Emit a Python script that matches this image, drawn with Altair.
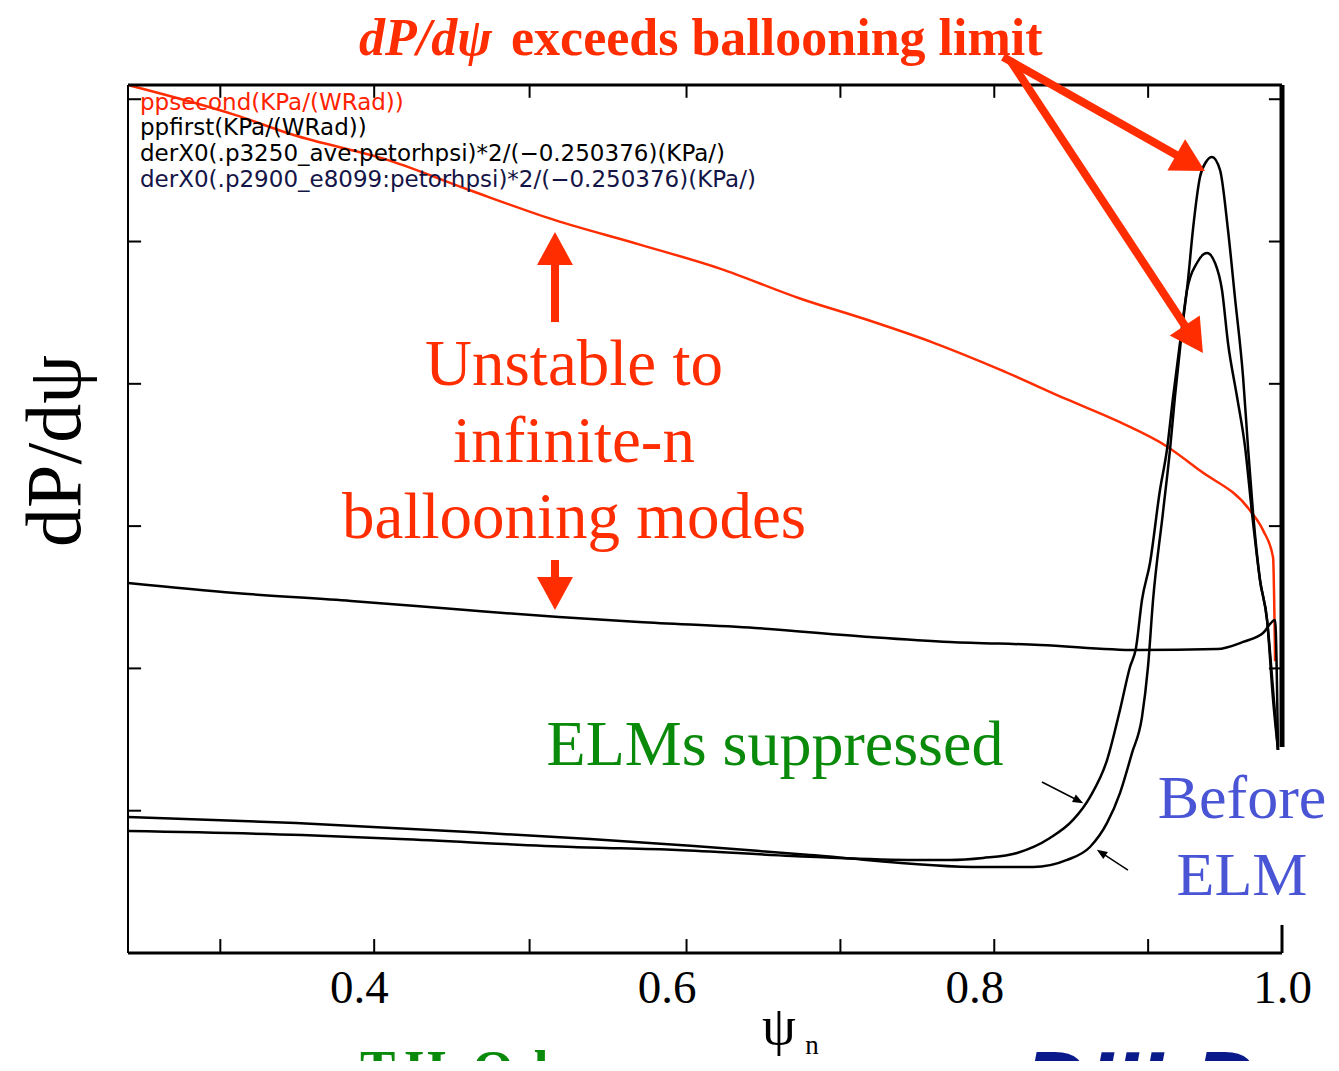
import altair as alt
import pandas as pd

# ---------------- data ----------------
# x: normalised flux psi_n, y: dP/dpsi (arbitrary units, unlabeled axis)
ppsecond_x = [0.2500, 0.3195, 0.3572, 0.4196, 0.4723, 0.5275, 0.5821, 0.6347, 0.6867, 0.7303,
              0.7732, 0.8167, 0.8603, 0.8947, 0.9252, 0.9467, 0.9792, 0.9877, 0.9942, 0.9955]
ppsecond_y = [6.10, 5.89, 5.75, 5.57, 5.36, 5.15, 4.98, 4.81, 4.60, 4.45,
              4.29, 4.10, 3.89, 3.73, 3.56, 3.39, 3.11, 2.97, 2.78, 2.05]

ppfirst_x = [0.2500, 0.3195, 0.3949, 0.4697, 0.5301, 0.5821, 0.6575, 0.7322, 0.7842, 0.8427,
             0.9058, 0.9578, 0.9747, 0.9877, 0.9955, 0.9974]
ppfirst_y = [2.600, 2.530, 2.474, 2.410, 2.361, 2.326, 2.284, 2.221, 2.186, 2.165,
             2.129, 2.136, 2.186, 2.249, 2.340, 1.427]

# ELMs suppressed (lower peak)
p3250_x = [0.2500, 0.3631, 0.4268, 0.5392, 0.6068, 0.6815, 0.7569, 0.7842, 0.8057, 0.8278,
           0.8492, 0.8642, 0.8752, 0.8863, 0.8947, 0.9012, 0.9051, 0.9090, 0.9142, 0.9207,
           0.9252, 0.9292, 0.9337, 0.9383, 0.9447, 0.9513, 0.9565, 0.9610, 0.9649, 0.9708,
           0.9760, 0.9805, 0.9857, 0.9903, 0.9942, 0.9974]
p3250_y = [0.857, 0.829, 0.801, 0.745, 0.724, 0.682, 0.654, 0.654, 0.668, 0.703,
           0.808, 0.935, 1.096, 1.356, 1.708, 2.010, 2.143, 2.481, 2.741, 3.254,
           3.535, 3.907, 4.287, 4.659, 4.849, 4.919, 4.849, 4.659, 4.287, 3.907,
           3.556, 3.092, 2.621, 2.340, 1.848, 1.427]

# Before ELM (taller peak)
p2900_x = [0.2500, 0.3592, 0.4716, 0.5503, 0.6179, 0.6932, 0.8057, 0.8382, 0.8603, 0.8752,
           0.8863, 0.8947, 0.9025, 0.9090, 0.9129, 0.9162, 0.9226, 0.9272, 0.9304, 0.9350,
           0.9389, 0.9421, 0.9467, 0.9506, 0.9545, 0.9597, 0.9649, 0.9694, 0.9747, 0.9779,
           0.9812, 0.9857, 0.9903, 0.9942, 0.9974]
p2900_y = [0.956, 0.914, 0.850, 0.801, 0.752, 0.689, 0.604, 0.604, 0.654, 0.745,
           0.914, 1.124, 1.405, 1.658, 2.010, 2.481, 3.092, 3.535, 3.907, 4.378,
           4.729, 5.081, 5.453, 5.559, 5.594, 5.503, 5.081, 4.610, 4.048, 3.556,
           3.092, 2.621, 2.340, 1.778, 1.427]

series_names = ["ppsecond", "ppfirst", "p3250_ave", "p2900_e8099"]
series_colors = ["#ff2d00", "#000000", "#000000", "#000000"]

x_label_values = [0.4, 0.6, 0.8, 1.0]
x_minor_ticks = [0.310, 0.410, 0.511, 0.613, 0.713, 0.813, 0.913]
y_left_ticks = [1, 2, 3, 4, 5, 6]
y_right_ticks = [2, 3, 4, 5, 6]

legend_lines = ["ppsecond(KPa/(WRad))",
                "ppfirst(KPa/(WRad))",
                "derX0(.p3250_ave:petorhpsi)*2/(\u22120.250376)(KPa/)",
                "derX0(.p2900_e8099:petorhpsi)*2/(\u22120.250376)(KPa/)"]
legend_colors = ["#ff2200", "#000000", "#000000", "#141446"]
legend_y = [5.924, 5.748, 5.565, 5.383]

X_DOMAIN = [0.25, 1.0]
Y_DOMAIN = [0.0, 6.1]
RED = "#ff2d00"

xscale = alt.Scale(domain=X_DOMAIN, nice=False, zero=False)
yscale = alt.Scale(domain=Y_DOMAIN, nice=False, zero=False)
xaxis = alt.Axis(values=x_label_values, format=".1f", title=None, domain=False, ticks=False,
                 grid=False, labelFont="Liberation Serif", labelFontSize=47, labelColor="black",
                 labelPadding=12, labelFlush=False)


def X(f):
    return alt.X(f, type="quantitative", scale=xscale, axis=xaxis)


def Y(f):
    return alt.Y(f, type="quantitative", scale=yscale, axis=None)


# ---------------- curves ----------------
rows = []
for name, xs, ys in [("ppsecond", ppsecond_x, ppsecond_y), ("ppfirst", ppfirst_x, ppfirst_y),
                     ("p3250_ave", p3250_x, p3250_y), ("p2900_e8099", p2900_x, p2900_y)]:
    for i, (a, b) in enumerate(zip(xs, ys)):
        rows.append({"series": name, "x": a, "y": b, "i": i})
curves_df = pd.DataFrame(rows)

curves = alt.Chart(curves_df).mark_line(strokeWidth=2.5, interpolate="monotone").encode(
    X("x"), Y("y"),
    color=alt.Color("series:N", scale=alt.Scale(domain=series_names, range=series_colors), legend=None),
    order="i:Q",
)

# ---------------- frame and inward ticks ----------------
frame_df = pd.DataFrame([
    {"x": 0.25, "y": 0.0, "x2": 0.25, "y2": 6.1, "w": 2},
    {"x": 0.25, "y": 6.1, "x2": 1.0, "y2": 6.1, "w": 3},
    {"x": 0.25, "y": 0.0, "x2": 1.0, "y2": 0.0, "w": 3},
    {"x": 1.0, "y": 1.448, "x2": 1.0, "y2": 6.1, "w": 5},
    {"x": 1.0, "y": 0.0, "x2": 1.0, "y2": 0.197, "w": 3},
])
tick_rows = []
for v in x_minor_ticks:
    tick_rows.append({"x": v, "y": 0.0, "x2": v, "y2": 0.098})
    tick_rows.append({"x": v, "y": 6.1, "x2": v, "y2": 6.01})
for v in y_left_ticks:
    tick_rows.append({"x": 0.25, "y": v, "x2": 0.2585, "y2": v})
for v in y_right_ticks:
    tick_rows.append({"x": 1.0, "y": v, "x2": 0.9915, "y2": v})
frame_df = pd.concat([frame_df, pd.DataFrame(tick_rows).assign(w=2)], ignore_index=True)

frame = alt.Chart(frame_df).mark_rule(color="black").encode(
    X("x"), Y("y"), x2="x2:Q", y2="y2:Q", size=alt.Size("w:Q", scale=None, legend=None)
)

# ---------------- in-plot legend text ----------------
leg_df = pd.DataFrame({"x": [0.2578] * 4, "y": legend_y, "t": legend_lines, "c": legend_colors})
legend_text = alt.Chart(leg_df).mark_text(align="left", baseline="alphabetic", font="DejaVu Sans",
                                          fontSize=23).encode(
    X("x"), Y("y"), text="t:N", color=alt.Color("c:N", scale=None)
)


def text_layer(texts, xs, ys, **mk):
    df = pd.DataFrame({"x": xs, "y": ys, "t": texts})
    return alt.Chart(df).mark_text(baseline="alphabetic", **mk).encode(X("x"), Y("y"), text="t:N")


title_a = text_layer(["dP/d\u03c8"], [0.4866], [6.311], align="right", font="Liberation Serif",
                     fontSize=52, fontWeight="bold", fontStyle="italic", color=RED)
title_b = text_layer(["exceeds ballooning limit"], [0.4989], [6.311], align="left",
                     font="Liberation Serif", fontSize=52, fontWeight="bold", color=RED)
unstable = text_layer(["Unstable to", "infinite-n", "ballooning modes"], [0.5399] * 3,
                      [3.992, 3.450, 2.916], align="center", font="Liberation Serif", fontSize=65,
                      color=RED)
elms = text_layer(["ELMs suppressed"], [0.6705], [1.321], align="center", font="Liberation Serif",
                  fontSize=64, color="#0a8a0a")
before = text_layer(["Before", "ELM"], [0.9740, 0.9740], [0.949, 0.408], align="center",
                    font="Liberation Serif", fontSize=62, color="#4a55d6")
ytitle = text_layer(["dP/d\u03c8"], [0.2188], [3.528], align="center", angle=270,
                    font="Liberation Serif", fontSize=78, color="black")
xtitle = text_layer(["\u03c8"], [0.6731], [-0.640], align="center", font="Liberation Serif",
                    fontSize=54, color="black")
xsub = text_layer(["n"], [0.6945], [-0.710], align="center", font="Liberation Serif",
                  fontSize=27, color="black")
author = text_layer(["T.H. Osborne"], [0.4008], [-0.942], align="left", font="Liberation Serif",
                    fontSize=53, fontWeight="bold", color="#0a8a0a")
logo = text_layer(["DIII-D"], [0.8317], [-1.14], align="left", font="Liberation Sans",
                  fontSize=90, fontWeight="bold", fontStyle="italic", color="#0b1a8a")

# ---------------- arrows ----------------
shafts_df = pd.DataFrame([
    {"x": 0.8187, "y": 6.297, "x2": 0.9406, "y2": 5.552},
    {"x": 0.8232, "y": 6.275, "x2": 0.9427, "y2": 4.313},
    {"x": 0.5275, "y": 4.434, "x2": 0.5275, "y2": 4.940},
    {"x": 0.5275, "y": 2.762, "x2": 0.5275, "y2": 2.551},
])
shafts = alt.Chart(shafts_df).mark_rule(color=RED, strokeWidth=8).encode(
    X("x"), Y("y"), x2="x2:Q", y2="y2:Q"
)
heads_df = pd.DataFrame([
    {"x": 0.9406, "y": 5.552, "a": 119.5},
    {"x": 0.9427, "y": 4.313, "a": 146.6},
    {"x": 0.5275, "y": 4.951, "a": 0.0},
    {"x": 0.5275, "y": 2.526, "a": 180.0},
])
heads = alt.Chart(heads_df).mark_point(shape="M0,-1L1.09,1L-1.09,1Z", filled=True, opacity=1,
                                       size=1089, color=RED, strokeWidth=0).encode(
    X("x"), Y("y"), angle=alt.Angle("a:Q", scale=None)
)

small_df = pd.DataFrame([
    {"x": 0.8440, "y": 1.202, "x2": 0.8678, "y2": 1.070},
    {"x": 0.8999, "y": 0.583, "x2": 0.8825, "y2": 0.705},
])
small_shafts = alt.Chart(small_df).mark_rule(color="black", strokeWidth=1.5).encode(
    X("x"), Y("y"), x2="x2:Q", y2="y2:Q"
)
small_heads_df = pd.DataFrame([
    {"x": 0.8678, "y": 1.070, "a": 117.1},
    {"x": 0.8825, "y": 0.705, "a": 302.8},
])
small_heads = alt.Chart(small_heads_df).mark_point(shape="M0,-1L0.8,1L-0.8,1Z", filled=True,
                                                   opacity=1, size=110, color="black",
                                                   strokeWidth=0).encode(
    X("x"), Y("y"), angle=alt.Angle("a:Q", scale=None)
)

chart = alt.layer(
    curves, frame, legend_text, title_a, title_b, unstable, elms, before, ytitle, xtitle, xsub,
    author, logo, shafts, heads, small_shafts, small_heads
).properties(
    width=1154, height=868,
    autosize=alt.AutoSizeParams(type="none"),
    padding={"left": 120, "top": 77, "right": 47, "bottom": 108},
).configure_view(stroke=None)

chart.save("out.html", embed_options={"renderer": "svg", "actions": False})
